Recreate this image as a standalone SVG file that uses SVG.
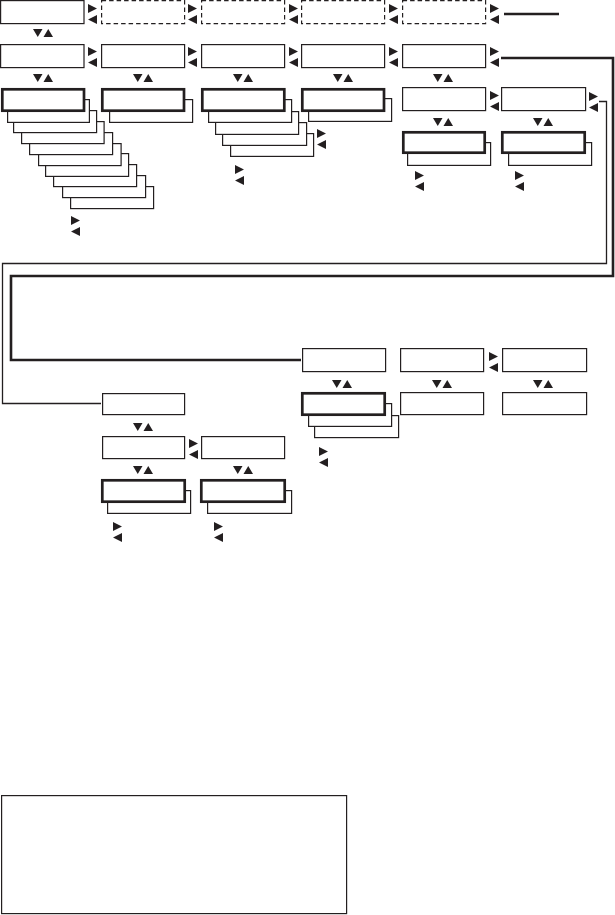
<svg xmlns="http://www.w3.org/2000/svg" width="615" height="915" viewBox="0 0 615 915">
<style>
.b{fill:#fff;stroke:#231f20;stroke-width:1.2}
.k{fill:#fff;stroke:#231f20;stroke-width:2.7}
.d{stroke-dasharray:4.5 3}
.c{fill:none;stroke:#231f20;stroke-width:1.3}
.ck{fill:none;stroke:#231f20;stroke-width:2.6}
.t{fill:#231f20}
</style>
<defs>
<path id="lr" d="M0,0L9,4.5L0,9ZM9,11L0,15.5L9,20Z"/>
<path id="ud" d="M0,0H9.5L4.75,8ZM10.5,8H20L15.25,0Z"/>
</defs>
<rect width="615" height="915" fill="#fff"/>

<g id="connectors">
<path class="ck" d="M501,58H613V276H11V360H301"/>
<path class="c" d="M599,101.5H606.5V263.5H2.5V403.5H101"/>
<path class="ck" d="M504,14H559" stroke-width="2"/>
</g>

<!-- row 1 -->
<g id="r1c1"><rect class="b" x="0.6" y="0.6" width="83.4" height="23"/></g>
<g id="r1c2"><rect class="b d" x="101.6" y="0.6" width="83" height="23"/></g>
<g id="r1c3"><rect class="b d" x="201.6" y="0.6" width="83" height="23"/></g>
<g id="r1c4"><rect class="b d" x="301.6" y="0.6" width="83" height="23"/></g>
<g id="r1c5"><rect class="b d" x="402.6" y="0.6" width="83" height="23"/></g>

<!-- row 2 -->
<g id="r2c1"><rect class="b" x="0.6" y="44.6" width="83.4" height="23"/></g>
<g id="r2c2"><rect class="b" x="101.6" y="44.6" width="83" height="23"/></g>
<g id="r2c3"><rect class="b" x="201.6" y="44.6" width="83" height="23"/></g>
<g id="r2c4"><rect class="b" x="301.6" y="44.6" width="83" height="23"/></g>
<g id="r2c5"><rect class="b" x="402.6" y="44.6" width="83" height="23"/></g>

<!-- row 3 stacks -->
<g id="stack1">
<rect class="b" x="70.6" y="186.6" width="83" height="22"/>
<rect class="b" x="62.6" y="175.6" width="83" height="22"/>
<rect class="b" x="53.6" y="164.6" width="83" height="22"/>
<rect class="b" x="45.6" y="153.6" width="83" height="22.8"/>
<rect class="b" x="38.6" y="143.6" width="82.5" height="22"/>
<rect class="b" x="29.6" y="132.6" width="83" height="22"/>
<rect class="b" x="21.6" y="121.6" width="82.5" height="22"/>
<rect class="b" x="13.6" y="110.6" width="83" height="22"/>
<rect class="b" x="7.6" y="99.6" width="81.8" height="22.8"/>
<rect class="k" x="2.3" y="89.3" width="81.7" height="21.4"/>
</g>
<g id="stack2">
<rect class="b" x="109.6" y="99.6" width="83" height="22.8"/>
<rect class="k" x="102.3" y="89.3" width="81.7" height="21.4"/>
</g>
<g id="stack3">
<rect class="b" x="230.6" y="133.6" width="83" height="22.8"/>
<rect class="b" x="222.6" y="122.6" width="84" height="22.8"/>
<rect class="b" x="215.6" y="111.6" width="83" height="22.8"/>
<rect class="b" x="208.6" y="99.6" width="83" height="22.8"/>
<rect class="k" x="202.3" y="89.3" width="82" height="21.4"/>
</g>
<g id="stack4">
<rect class="b" x="308.6" y="98.6" width="83" height="22.8"/>
<rect class="k" x="302.3" y="89.3" width="81.7" height="21.4"/>
</g>

<!-- right group -->
<g id="r3c5"><rect class="b" x="402.6" y="87.6" width="83" height="23"/></g>
<g id="r3c6"><rect class="b" x="501.6" y="87.6" width="84" height="23"/></g>
<g id="stack5">
<rect class="b" x="407.6" y="142.6" width="83" height="22.8"/>
<rect class="k" x="403.3" y="132.3" width="81.4" height="20.4"/>
</g>
<g id="stack6">
<rect class="b" x="508.6" y="142.6" width="83" height="22.8"/>
<rect class="k" x="502.3" y="132.3" width="82.4" height="20.4"/>
</g>

<!-- middle group -->
<g id="mA"><rect class="b" x="302.6" y="348.6" width="83" height="23"/></g>
<g id="mB"><rect class="b" x="400.6" y="348.6" width="83" height="23"/></g>
<g id="mC"><rect class="b" x="502.6" y="348.6" width="84" height="23"/></g>
<g id="stackA">
<rect class="b" x="314.6" y="415.6" width="84" height="22"/>
<rect class="b" x="308.6" y="403.6" width="83" height="22.8"/>
<rect class="k" x="302.3" y="393.3" width="82.4" height="21.4"/>
</g>
<g id="mB2"><rect class="b" x="400.6" y="392.6" width="83" height="22"/></g>
<g id="mC2"><rect class="b" x="502.6" y="392.6" width="84" height="22"/></g>

<!-- lower group -->
<g id="lP"><rect class="b" x="102.6" y="393.6" width="82" height="21"/></g>
<g id="lQ"><rect class="b" x="102.6" y="436.6" width="82" height="22"/></g>
<g id="lR"><rect class="b" x="201.6" y="436.6" width="83" height="22"/></g>
<g id="stackQ">
<rect class="b" x="107.6" y="490.6" width="83" height="22.8"/>
<rect class="k" x="102.3" y="480.3" width="82.4" height="21.4"/>
</g>
<g id="stackR">
<rect class="b" x="207.6" y="490.6" width="84" height="22.8"/>
<rect class="k" x="201.3" y="480.3" width="83.4" height="21.4"/>
</g>

<!-- legend -->
<g id="legend"><rect class="b" x="1.6" y="795.6" width="345" height="118" stroke-width="1.4"/></g>

<!-- left/right arrows -->
<g id="lr-arrows" class="t">
<use href="#lr" x="88" y="4"/>
<use href="#lr" x="188" y="4"/>
<use href="#lr" x="289" y="4"/>
<use href="#lr" x="389" y="4"/>
<use href="#lr" x="490" y="4"/>
<use href="#lr" x="88" y="47"/>
<use href="#lr" x="188" y="47"/>
<use href="#lr" x="289" y="47"/>
<use href="#lr" x="389" y="47"/>
<use href="#lr" x="490" y="47"/>
<use href="#lr" x="490" y="91"/>
<use href="#lr" x="589" y="92"/>
<use href="#lr" x="71" y="216"/>
<use href="#lr" x="235" y="165"/>
<use href="#lr" x="317" y="129"/>
<use href="#lr" x="415" y="171"/>
<use href="#lr" x="515" y="171"/>
<use href="#lr" x="489" y="352"/>
<use href="#lr" x="319" y="447"/>
<use href="#lr" x="189" y="439"/>
<use href="#lr" x="113" y="522"/>
<use href="#lr" x="214" y="522"/>
</g>

<!-- up/down arrows -->
<g id="ud-arrows" class="t">
<use href="#ud" x="33" y="29"/>
<use href="#ud" x="33" y="74"/>
<use href="#ud" x="133" y="74"/>
<use href="#ud" x="233" y="74"/>
<use href="#ud" x="333" y="74"/>
<use href="#ud" x="433" y="74"/>
<use href="#ud" x="433" y="118"/>
<use href="#ud" x="533" y="118"/>
<use href="#ud" x="332" y="380"/>
<use href="#ud" x="432" y="380"/>
<use href="#ud" x="533" y="380"/>
<use href="#ud" x="133" y="423"/>
<use href="#ud" x="133" y="466"/>
<use href="#ud" x="233" y="466"/>
</g>
</svg>
